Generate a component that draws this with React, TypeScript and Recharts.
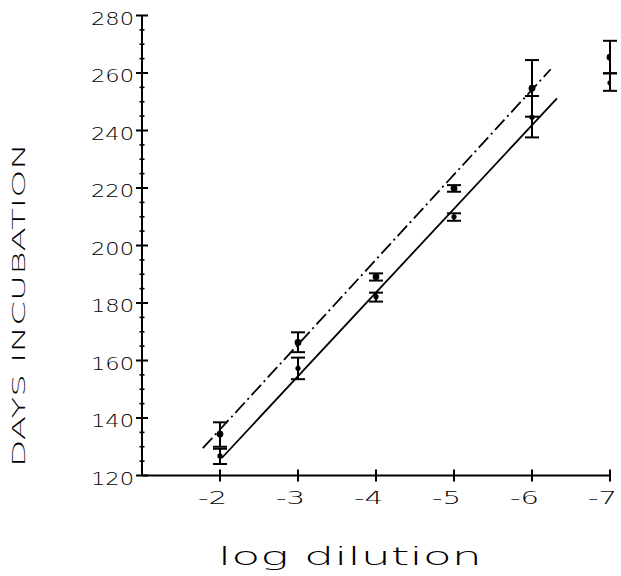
import React from "react";
import { ComposedChart, XAxis, YAxis, Line, Scatter, ErrorBar } from "recharts";

// ---- data ----
const dilutions = [-2, -3, -4, -5, -6, -7];

// upper series (larger circles)
const upperMeans = [134.4, 166.3, 189.1, 219.9, 254.7, 265.5];
const upperLow = [130.0, 162.9, 187.8, 218.7, 244.8, 259.9];
const upperHigh = [138.5, 169.8, 190.3, 221.0, 264.5, 271.2];

// lower series (small dots)
const lowerMeans = [126.8, 157.3, 182.2, 210.0, 244.6, 256.6];
const lowerLow = [124.0, 153.5, 180.5, 208.6, 237.6, 253.8];
const lowerHigh = [129.3, 161.0, 183.6, 211.2, 252.0, 259.9];

// fitted lines (end points)
const solidFitX = [-2.02, -6.32];
const solidFitY = [126.0, 251.2];
const dashFitX = [-1.78, -6.24];
const dashFitY = [129.5, 261.3];

const xTicks = [-2, -3, -4, -5, -6, -7];
const yTicks = [
  120, 125, 130, 135, 140, 145, 150, 155, 160, 165, 170, 175, 180, 185, 190, 195,
  200, 205, 210, 215, 220, 225, 230, 235, 240, 245, 250, 255, 260, 265, 270, 275, 280,
];

const xTitle = "log dilution";
const yTitle = "DAYS INCUBATION";

// ---- derived tables ----
const upperData = dilutions.map((x, i) => ({
  x,
  y: upperMeans[i],
  err: [upperMeans[i] - upperLow[i], upperHigh[i] - upperMeans[i]],
}));
const lowerData = dilutions.map((x, i) => ({
  x,
  y: lowerMeans[i],
  err: [lowerMeans[i] - lowerLow[i], lowerHigh[i] - lowerMeans[i]],
}));
const solidData = solidFitX.map((x, i) => ({ x, y: solidFitY[i] }));
const dashData = dashFitX.map((x, i) => ({ x, y: dashFitY[i] }));

const FONT = "'DejaVu Sans', sans-serif";
const WEIGHT = 200;

const YTick = (props: any) => {
  const { x, y, payload } = props;
  const v = payload.value;
  const major = v % 20 === 0;
  const h = major ? 6 : 2.5;
  return (
    <g>
      <line x1={x - h} x2={x + h} y1={y} y2={y} stroke="#000" strokeWidth={major ? 2 : 1.6} />
      {major && (
        <text
          x={x - 8}
          y={y + 9}
          textAnchor="end"
          fontFamily={FONT}
          fontWeight={WEIGHT}
          fontSize={18}
          fill="#000"
          textLength={43}
          lengthAdjust="spacingAndGlyphs"
        >
          {String(v)}
        </text>
      )}
    </g>
  );
};

const XTick = (props: any) => {
  const { x, y, payload } = props;
  return (
    <g>
      <line x1={x} x2={x} y1={y - 6} y2={y + 6} stroke="#000" strokeWidth={2} />
      <text
        x={x + 7}
        y={y + 28}
        textAnchor="end"
        fontFamily={FONT}
        fontWeight={WEIGHT}
        fontSize={18}
        fill="#000"
        textLength={29}
        lengthAdjust="spacingAndGlyphs"
      >
        {String(payload.value)}
      </text>
    </g>
  );
};

const XTitle = () => (
  <text
    x={350}
    y={565}
    textAnchor="middle"
    fontFamily={FONT}
    fontWeight={WEIGHT}
    fontSize={25}
    fill="#000"
    textLength={264}
    lengthAdjust="spacingAndGlyphs"
  >
    {xTitle}
  </text>
);

const YTitle = () => (
  <text
    x={25}
    y={305}
    transform="rotate(-90, 25, 305)"
    textAnchor="middle"
    fontFamily={FONT}
    fontWeight={WEIGHT}
    fontSize={17}
    fill="#000"
    textLength={324}
    lengthAdjust="spacingAndGlyphs"
  >
    {yTitle}
  </text>
);

const BigDot = (props: any) => <circle cx={props.cx} cy={props.cy} r={3.4} fill="#000" />;
const SmallDot = (props: any) => <circle cx={props.cx} cy={props.cy} r={2.6} fill="#000" />;

export default function App() {
  return (
    <div style={{ position: "absolute", left: 0, top: 0, background: "#fff" }}>
      <ComposedChart
        width={621}
        height={576}
        margin={{ top: 15.5, right: 11, bottom: 0, left: 0 }}
      >
        <XAxis
          type="number"
          dataKey="x"
          domain={[-7, -1]}
          reversed
          ticks={xTicks}
          interval={0}
          height={100.5}
          tickSize={0}
          tickMargin={0}
          tickLine={false}
          tick={<XTick />}
          axisLine={{ stroke: "#000", strokeWidth: 2 }}
          allowDataOverflow
          label={<XTitle />}
        />
        <YAxis
          type="number"
          dataKey="y"
          domain={[120, 280]}
          ticks={yTicks}
          interval={0}
          width={142}
          tickSize={0}
          tickMargin={0}
          tickLine={false}
          tick={<YTick />}
          axisLine={{ stroke: "#000", strokeWidth: 2 }}
          allowDataOverflow
          label={<YTitle />}
        />
        <Line
          data={solidData}
          dataKey="y"
          type="linear"
          stroke="#000"
          strokeWidth={1.8}
          dot={false}
          activeDot={false}
          isAnimationActive={false}
        />
        <Line
          data={dashData}
          dataKey="y"
          type="linear"
          stroke="#000"
          strokeWidth={1.8}
          strokeDasharray="14 4 2 4"
          dot={false}
          activeDot={false}
          isAnimationActive={false}
        />
        <Scatter data={upperData} dataKey="y" shape={<BigDot />} isAnimationActive={false}>
          <ErrorBar dataKey="err" direction="y" width={7} stroke="#000" strokeWidth={2} isAnimationActive={false} />
        </Scatter>
        <Scatter data={lowerData} dataKey="y" shape={<SmallDot />} isAnimationActive={false}>
          <ErrorBar dataKey="err" direction="y" width={7} stroke="#000" strokeWidth={2} isAnimationActive={false} />
        </Scatter>
      </ComposedChart>
    </div>
  );
}
